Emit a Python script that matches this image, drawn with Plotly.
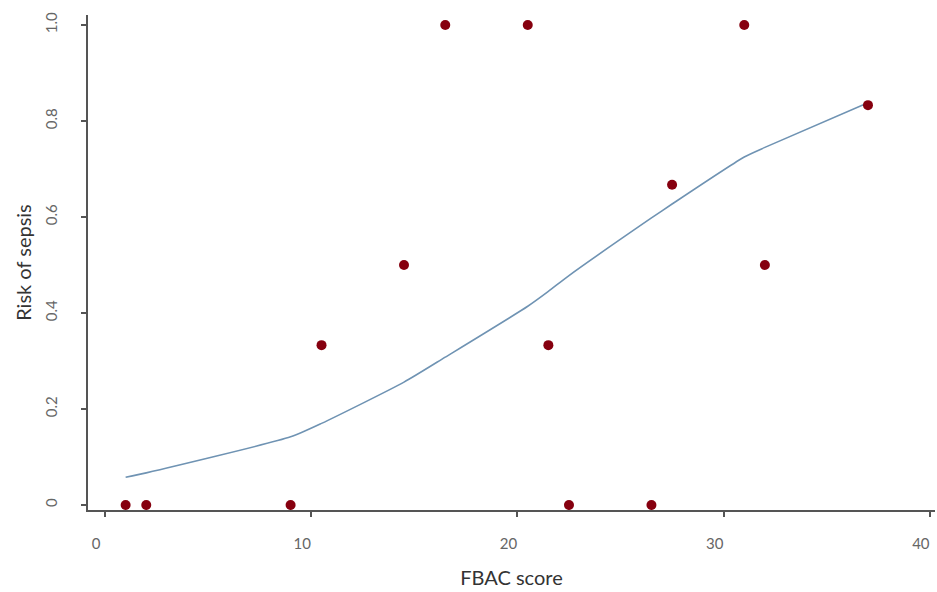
import plotly.graph_objects as go

# Observed data (FBAC score vs proportion with sepsis)
fbac_score = [1, 2, 9, 10.5, 14.5, 16.5, 20.5, 21.5, 22.5, 26.5, 27.5, 31, 32, 37]
risk_observed = [0, 0, 0, 0.333, 0.5, 1.0, 1.0, 0.333, 0, 0, 0.667, 1.0, 0.5, 0.833]
# Smoothed fit
risk_fitted = [0.058, 0.067, 0.142, 0.170, 0.256, 0.308, 0.414, 0.445, 0.478,
               0.598, 0.627, 0.725, 0.745, 0.838]

x_tickvals = [0, 10, 20, 30, 40]
x_ticktext = ["0", "10", "20", "30", "40"]
y_tickvals = [0, 0.2, 0.4, 0.6, 0.8, 1.0]
y_ticktext = ["0", "0.2", "0.4", "0.6", "0.8", "1.0"]

fig = go.Figure()
fig.add_trace(go.Scatter(
    x=fbac_score, y=risk_fitted, mode="lines", line_shape="spline",
    line=dict(color="#6f93b3", width=1.6, smoothing=0.6), hoverinfo="skip", showlegend=False))
fig.add_trace(go.Scatter(
    x=fbac_score, y=risk_observed, mode="markers",
    marker=dict(color="#86000f", size=10), showlegend=False))

fig.update_layout(
    width=937, height=592,
    margin=dict(l=88, r=2, t=15, b=82),
    paper_bgcolor="white", plot_bgcolor="white",
    font=dict(family="Lato, Open Sans, sans-serif"),
)
fig.update_xaxes(
    range=[-0.825, 40.25], tickvals=x_tickvals, ticktext=x_ticktext,
    showline=True, linecolor="#555", linewidth=2, mirror=False,
    ticks="outside", ticklen=5, tickwidth=2, tickcolor="#555",
    showgrid=False, zeroline=False, automargin=False,
    tickfont=dict(size=15, color="#666"), ticklabelstandoff=14, ticklabelshift=-9,
    title=dict(text="FBAC score", font=dict(size=20, color="#333"), standoff=20),
)
fig.update_yaxes(
    range=[-0.0104, 1.0208], tickvals=y_tickvals, ticktext=y_ticktext,
    showline=True, linecolor="#555", linewidth=2,
    ticks="outside", ticklen=5, tickwidth=2, tickcolor="#555",
    showgrid=False, zeroline=False, tickangle=-90, automargin=False,
    tickfont=dict(size=15, color="#666"), ticklabelstandoff=18,
    title=dict(text="Risk of sepsis", font=dict(size=20, color="#333"), standoff=5),
)

fig.write_html("out.html", config={"displayModeBar": False},
               post_script="document.body.style.margin='0';")
